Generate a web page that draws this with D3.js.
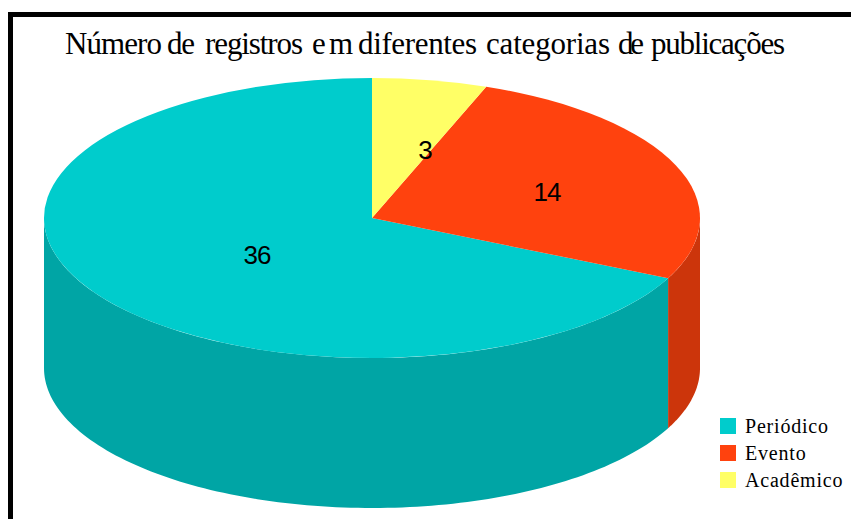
<!DOCTYPE html>
<html><head><meta charset="utf-8">
<style>html,body{margin:0;padding:0;background:#fff}svg{display:block}</style>
<script src="https://cdn.jsdelivr.net/npm/d3@7/dist/d3.min.js"></script>
</head><body>
<svg id="c" width="851" height="519"></svg>
<script>
const titleWords = ["Número", "de", "registros", "em", "diferentes", "categorias", "de", "publicações"];
const categories = ["Periódico", "Evento", "Acadêmico"];
const values = [36, 14, 3];
const topColors = ["#00cccc", "#ff420e", "#ffff66"];
const sideColors = ["#00a5a5", "#cc350b", "#cccc52"];
const labelPos = [[257, 257], [547, 194], [425, 152]];
const titleStart = [65, 167, 205, 312, 358, 486, 618, 651];
const titleWidth = [97, 28, 98, 41, 119, 124, 26, 134];

const svg = d3.select("#c");
const W = 851, H = 519;
const cx = 372, cy = 218, rx = 328, ry = 140, depth = 150;

svg.append("rect").attr("x", 10.5).attr("y", 14.5).attr("width", W + 20).attr("height", H + 20)
  .attr("fill", "#fff").attr("stroke", "#000").attr("stroke-width", 5);

const data = categories.map((c, i) => ({c, v: values[i], i}));
const pie = d3.pie().value(d => d.v).sort((a, b) => b.i - a.i).startAngle(0).endAngle(2 * Math.PI);
const arcs = pie(data);

const px = a => cx + rx * Math.sin(a);
const py = a => cy - ry * Math.cos(a);

// Visible side wall: the part of each slice whose rim faces the viewer
function sidePath(a0, a1) {
  const s = Math.max(a0, Math.PI / 2), e = Math.min(a1, 3 * Math.PI / 2);
  if (s >= e) return null;
  const angles = d3.range(0, 121).map(k => s + (e - s) * k / 120);
  const top = angles.map(a => [px(a), py(a)]);
  const bottom = angles.slice().reverse().map(a => [px(a), py(a) + depth]);
  return d3.line()(top.concat(bottom)) + "Z";
}
const sides = svg.append("g");
arcs.forEach(d => {
  const p = sidePath(d.startAngle, d.endAngle);
  if (p) sides.append("path").attr("d", p).attr("fill", sideColors[d.data.i]);
});

const arcGen = d3.arc().innerRadius(0).outerRadius(rx);
svg.append("g").attr("transform", `translate(${cx},${cy}) scale(1,${ry / rx})`)
  .selectAll("path").data(arcs).join("path")
  .attr("d", arcGen).attr("fill", d => topColors[d.data.i]);

svg.append("g").selectAll("text").data(data).join("text")
  .attr("x", d => labelPos[d.i][0]).attr("y", d => labelPos[d.i][1])
  .attr("text-anchor", "middle").attr("dominant-baseline", "middle")
  .attr("font-family", "Liberation Sans").attr("font-size", 26).attr("fill", "#000")
  .style("letter-spacing", "-1px")
  .text(d => d.v);

const title = svg.append("text").attr("y", 54)
  .attr("font-family", "Liberation Serif").attr("font-size", 31).attr("fill", "#000");
titleWords.forEach((w, i) => {
  const t = title.append("tspan").attr("x", titleStart[i]).text(w);
  const natural = t.node().getComputedTextLength();
  const gaps = Math.max(1, w.length - 1);
  t.style("letter-spacing", ((titleWidth[i] - natural) / gaps) + "px");
  if (i < titleWords.length - 1) title.append("tspan").text(" ");
});

const legendY = d3.scalePoint().domain(categories).range([426, 480]);
const lg = svg.append("g").selectAll("g").data(data).join("g")
  .attr("transform", d => `translate(720,${legendY(d.c)})`);
lg.append("rect").attr("x", 0).attr("y", -8).attr("width", 16).attr("height", 16)
  .attr("fill", d => topColors[d.i]);
lg.append("text").attr("x", 25).attr("y", 7)
  .attr("font-family", "Liberation Serif").attr("font-size", 20).attr("fill", "#000")
  .style("letter-spacing", "0.8px")
  .text(d => d.c);
</script>
</body></html>
